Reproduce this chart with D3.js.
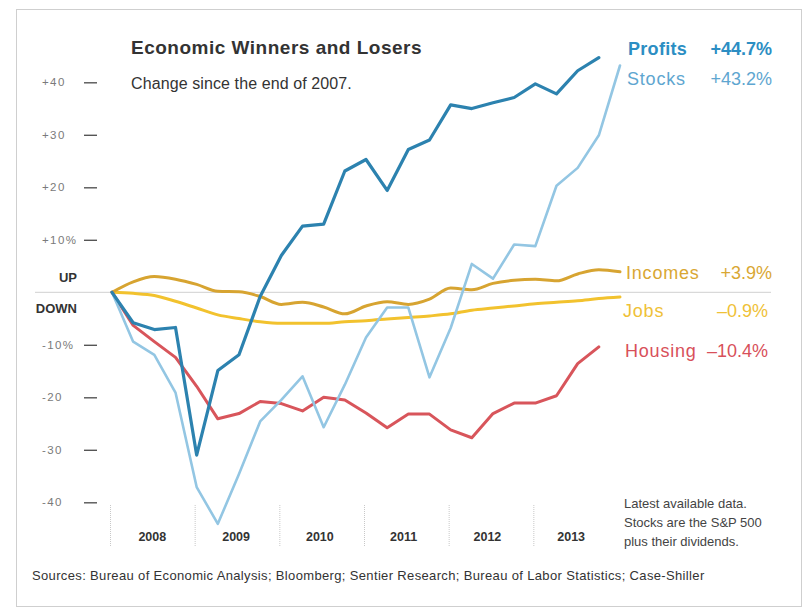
<!DOCTYPE html>
<html>
<head>
<meta charset="utf-8">
<script src="https://cdn.jsdelivr.net/npm/d3@7"></script>
<style>
  body { margin: 0; background: #fff; }
  svg text { font-family: "Liberation Sans", Arial, sans-serif; }
</style>
</head>
<body>
<div id="chart"></div>
<script>
// quarter-end index 0 = end of 2007, 1 = Q1 2008, ...
const profits = [0, -5.8, -7.1, -6.7, -31.0, -14.9, -11.9, -0.8, 7.0, 12.6, 13.0, 23.1, 25.3, 19.4,
  27.2, 29.0, 35.7, 35.0, 36.1, 37.1, 39.7, 37.8, 42.2, 44.7];
const stocks = [0, -9.4, -11.9, -19.1, -37.1, -44.1, -34.6, -24.6, -20.5, -16.0, -25.7, -17.6, -8.6, -2.9,
  -2.9, -16.2, -6.8, 5.4, 2.6, 9.1, 8.8, 20.3, 23.7, 29.9, 43.2];
const housing = [0, -6.3, -9.4, -12.4, -17.9, -24.1, -23.1, -20.8, -21.2, -22.6, -20.0, -20.5, -23.0, -25.8,
  -23.2, -23.2, -26.2, -27.7, -23.1, -21.1, -21.1, -19.7, -13.6, -10.4];
const incomes = [0, 2.0, 3.0, 2.5, 1.5, 0.2, 0.1, -0.8, -2.3, -1.9, -2.8, -4.1, -2.6, -1.8,
  -2.3, -1.3, 0.8, 0.5, 1.7, 2.3, 2.5, 2.2, 3.5, 4.3, 3.9];
const jobs = [0, -0.2, -0.6, -1.7, -3.0, -4.3, -5.0, -5.6, -5.9, -5.9, -5.9, -5.6, -5.4, -5.1,
  -4.8, -4.5, -4.1, -3.4, -3.0, -2.6, -2.2, -1.9, -1.6, -1.2, -0.9];

const years = [2008, 2009, 2010, 2011, 2012, 2013];
const yTicks = [40, 30, 20, 10, -10, -20, -30, -40];

const seriesNames = ["Profits", "Stocks", "Incomes", "Jobs", "Housing"];
const seriesChanges = ["+44.7%", "+43.2%", "+3.9%", "\u20130.9%", "\u201310.4%"];

const width = 805, height = 610;

const svg = d3.select("#chart").append("svg")
  .attr("width", width)
  .attr("height", height);

// frame
svg.append("rect")
  .attr("x", 16.5).attr("y", 9.5)
  .attr("width", 785).attr("height", 597)
  .attr("fill", "none")
  .attr("stroke", "#cfcfcf");

// time in years: 2008.0 = end of 2007
const x = d3.scaleLinear().domain([2008, 2014]).range([112, 620]);
const y = d3.scaleLinear().domain([-40, 40]).range([502.3, 82.3]);
const tq = i => 2008 + i / 4;

// zero line
svg.append("line")
  .attr("x1", 35).attr("x2", 771)
  .attr("y1", y(0)).attr("y2", y(0))
  .attr("stroke", "#d0d0d0")
  .attr("stroke-width", 1);

// y axis
const yAxis = d3.axisLeft(y)
  .tickValues(yTicks)
  .tickSize(13)
  .tickPadding(0)
  .tickFormat(d => {
    const s = (d > 0 ? "+" : "-") + Math.abs(d);
    return Math.abs(d) === 10 ? s + "%" : s;
  });

const gy = svg.append("g")
  .attr("transform", "translate(97,0)")
  .call(yAxis);
gy.select(".domain").remove();
gy.selectAll(".tick line").attr("stroke", "#555").attr("stroke-width", 1.4);
gy.selectAll(".tick text")
  .attr("x", -55)
  .attr("text-anchor", "start")
  .attr("fill", "#7a7a7a")
  .style("font-size", "11.5px")
  .style("letter-spacing", "1.4px");

svg.append("text")
  .attr("x", 77).attr("y", 281.5)
  .attr("text-anchor", "end")
  .attr("font-weight", "bold")
  .attr("font-size", 13)
  .attr("fill", "#333")
  .text("UP");
svg.append("text")
  .attr("x", 77).attr("y", 313)
  .attr("text-anchor", "end")
  .attr("font-weight", "bold")
  .attr("font-size", 13)
  .attr("fill", "#333")
  .text("DOWN");

// year dividers and labels
svg.selectAll(".divider")
  .data(years)
  .enter().append("line")
  .attr("class", "divider")
  .attr("x1", d => x(d) - 1.5).attr("x2", d => x(d) - 1.5)
  .attr("y1", 505).attr("y2", 546)
  .attr("stroke", "#c8c8c8")
  .attr("stroke-dasharray", "1,1");

svg.selectAll(".year")
  .data(years)
  .enter().append("text")
  .attr("class", "year")
  .attr("x", d => x(d + 0.5) - 2 - (d - 2008) * 0.9)
  .attr("y", 541)
  .attr("text-anchor", "middle")
  .attr("font-weight", "bold")
  .attr("font-size", 12.5)
  .attr("fill", "#333")
  .text(d => d);

// lines
const line = d3.line()
  .x((d, i) => x(tq(i)))
  .y(d => y(d));
const smooth = d3.line()
  .x((d, i) => x(tq(i)))
  .y(d => y(d))
  .curve(d3.curveMonotoneX);

const lines = [
  { data: jobs, color: "#f2c22e", w: 3, gen: smooth },
  { data: incomes, color: "#d7a431", w: 3, gen: smooth },
  { data: housing, color: "#d8555b", w: 3, gen: line },
  { data: stocks, color: "#93c6e3", w: 2.6, gen: line },
  { data: profits, color: "#2c82af", w: 3.2, gen: line }
];

svg.selectAll(".series")
  .data(lines)
  .enter().append("path")
  .attr("class", "series")
  .attr("d", d => d.gen(d.data))
  .attr("fill", "none")
  .attr("stroke", d => d.color)
  .attr("stroke-width", d => d.w)
  .attr("stroke-linejoin", "round")
  .attr("stroke-linecap", "round");

// series labels
const labelColors = ["#2c8ec3", "#5ea6d0", "#d9a733", "#efc137", "#d8505a"];
const labelY = [55, 85, 279, 317, 357];
const labelX = [628, 627, 626, 623, 625];
const labelBold = [true, false, false, false, false];

seriesNames.forEach((name, i) => {
  svg.append("text")
    .attr("x", labelX[i]).attr("y", labelY[i])
    .attr("fill", labelColors[i])
    .attr("font-size", 18)
    .attr("font-weight", labelBold[i] ? "bold" : "normal")
    .style("letter-spacing", labelBold[i] ? "0.3px" : "0.8px")
    .text(name);
  svg.append("text")
    .attr("x", 772 - (i >= 3 ? 4 : 0)).attr("y", labelY[i])
    .attr("text-anchor", "end")
    .attr("fill", labelColors[i])
    .attr("font-size", 18)
    .attr("font-weight", labelBold[i] ? "bold" : "normal")
    .text(seriesChanges[i]);
});

// titles
svg.append("text")
  .attr("x", 131).attr("y", 54)
  .attr("font-size", 19)
  .attr("font-weight", "bold")
  .attr("fill", "#333")
  .style("letter-spacing", "0.5px")
  .text("Economic Winners and Losers");
svg.append("text")
  .attr("x", 131).attr("y", 89)
  .attr("font-size", 16)
  .attr("fill", "#333")
  .style("letter-spacing", "0.1px")
  .text("Change since the end of 2007.");

// note
const note = ["Latest available data.", "Stocks are the S&P 500", "plus their dividends."];
svg.selectAll(".note")
  .data(note)
  .enter().append("text")
  .attr("class", "note")
  .attr("x", 624)
  .attr("y", (d, i) => 508 + i * 19)
  .attr("font-size", 13)
  .attr("fill", "#444")
  .text(d => d);

svg.append("text")
  .attr("x", 32).attr("y", 580)
  .attr("font-size", 13)
  .attr("fill", "#333")
  .style("letter-spacing", "0.35px")
  .text("Sources: Bureau of Economic Analysis; Bloomberg; Sentier Research; Bureau of Labor Statistics; Case-Shiller");
</script>
</body>
</html>
